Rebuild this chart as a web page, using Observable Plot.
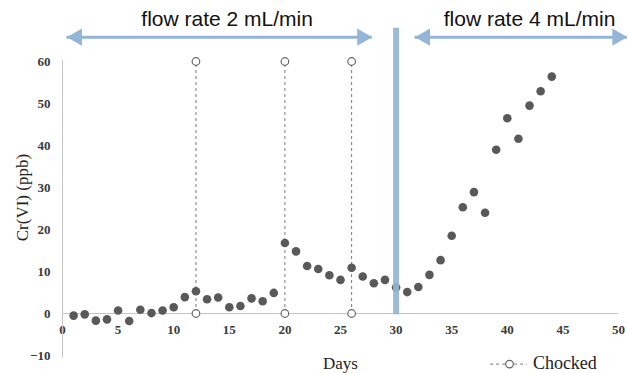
<!DOCTYPE html>
<html><head><meta charset="utf-8">
<script src="https://cdn.jsdelivr.net/npm/d3@7"></script>
<script src="https://cdn.jsdelivr.net/npm/@observablehq/plot@0.6"></script>
<style>body{margin:0;background:#fff}
svg g[aria-label="y-axis tick label"] text, svg g[aria-label="x-axis tick label"] text{font-family:'Times New Roman','Liberation Serif',serif;}
</style>
</head><body><div id="chart"></div>
<script>
const days = [1,2,3,4,5,6,7,8,9,10,11,12,13,14,15,16,17,18,19,20,21,22,23,24,25,26,27,28,29,30,31,32,33,34,35,36,37,38,39,40,41,42,43,44];
const crVI = [-0.5,-0.2,-1.7,-1.4,0.7,-1.8,0.9,0.1,0.7,1.5,3.9,5.3,3.4,3.8,1.5,1.8,3.6,2.9,4.9,16.8,14.8,11.3,10.6,9.1,8.0,10.9,8.8,7.2,8.0,6.2,5.1,6.3,9.2,12.7,18.5,25.3,28.9,24.0,39.0,46.5,41.6,49.5,52.9,56.4];
const chockedDays = [12, 20, 26];
const chockedRange = [0, 60];
const xTicks = [0,5,10,15,20,25,30,35,40,45,50];
const yTicks = [-10,0,10,20,30,40,50,60];
const flowLabels = ["flow rate 2 mL/min", "flow rate 4 mL/min"];
const flowLabelX = [14.8, 42.0];
const flowSpans = [[0.4, 27.85], [31.7, 50.8]];
const flowChangeDay = 30;
const yLabel = "Cr(VI) (ppb)";
const xLabel = "Days";
const legendLabel = "Chocked";

const points = days.map((d, i) => ({day: d, value: crVI[i]}));
const chockedLines = chockedDays.map(d => ({day: d, y1: chockedRange[0], y2: chockedRange[1]}));
const chockedPts = chockedDays.flatMap(d => chockedRange.map(v => ({day: d, value: v})));

const serif = "'Times New Roman', 'Liberation Serif', serif";
const sans = "Arial, 'Liberation Sans', sans-serif";
const blue = "#93b5d6";
const arrowY = 65.8;
const legendY = -11.95;

const plot = Plot.plot({
  width: 627, height: 373,
  marginLeft: 62, marginRight: 9, marginTop: 61, marginBottom: 18,
  x: {domain: [0, 50]},
  y: {domain: [-10, 60]},
  style: {fontFamily: serif, background: "#fff", overflow: "visible"},
  marks: [
    Plot.axisY({ticks: yTicks, tickSize: 0, tickPadding: 12, label: null, fontSize: 13, fontWeight: "bold", fill: "#3a3a3a"}),
    Plot.axisX({ticks: xTicks, tickSize: 0, tickPadding: 0, dy: -31, label: null, fontSize: 13, fontWeight: "bold", fill: "#3a3a3a"}),
    Plot.ruleX([0], {y1: -10.5, y2: 60.2, stroke: "#c4c4c4"}),
    Plot.ruleY([0], {x1: 0, x2: 50, stroke: "#c4c4c4"}),
    Plot.ruleX(chockedLines, {x: "day", y1: "y1", y2: "y2", stroke: "#7a7a7a", strokeDasharray: "3,3", strokeWidth: 1}),
    Plot.dot(chockedPts, {x: "day", y: "value", r: 3.8, fill: "white", stroke: "#666", strokeWidth: 1.2}),
    Plot.dot(points, {x: "day", y: "value", r: 4.3, fill: "#595959"}),
    Plot.ruleX([flowChangeDay], {y1: -0.3, y2: 67.9, stroke: blue, strokeWidth: 6, strokeOpacity: 0.92}),
    // flow rate arrows
    Plot.ruleY(flowSpans, {x1: d => d[0], x2: d => d[1], y: () => arrowY, stroke: blue, strokeWidth: 3}),
    Plot.dot(flowSpans, {x: d => d[0], y: () => arrowY, symbol: d3.symbolTriangle, r: 6.43, fill: blue, rotate: -90, dx: 10}),
    Plot.dot(flowSpans, {x: d => d[1], y: () => arrowY, symbol: d3.symbolTriangle, r: 6.43, fill: blue, rotate: 90, dx: -10}),
    Plot.text(flowLabels, {x: (d, i) => flowLabelX[i], y: () => 70, text: d => d, fontSize: 21, fontFamily: sans, fill: "#111"}),
    // axis titles
    Plot.text([yLabel], {x: () => -3.55, y: () => 27.6, text: d => d, rotate: -90, fontSize: 17, fill: "#222"}),
    Plot.text([xLabel], {x: () => 25, y: () => legendY, text: d => d, fontSize: 17, fill: "#222"}),
    // legend
    Plot.ruleY([legendLabel], {x1: () => 38.5, x2: () => 41.8, y: () => legendY - 0.1, stroke: "#7a7a7a", strokeDasharray: "3,3"}),
    Plot.dot([legendLabel], {x: () => 40.2, y: () => legendY - 0.1, r: 3.8, fill: "white", stroke: "#666", strokeWidth: 1.2}),
    Plot.text([legendLabel], {x: () => 42.3, y: () => legendY, text: d => d, textAnchor: "start", fontSize: 18, fill: "#222"})
  ]
});
document.getElementById("chart").appendChild(plot);
</script>
</body></html>
